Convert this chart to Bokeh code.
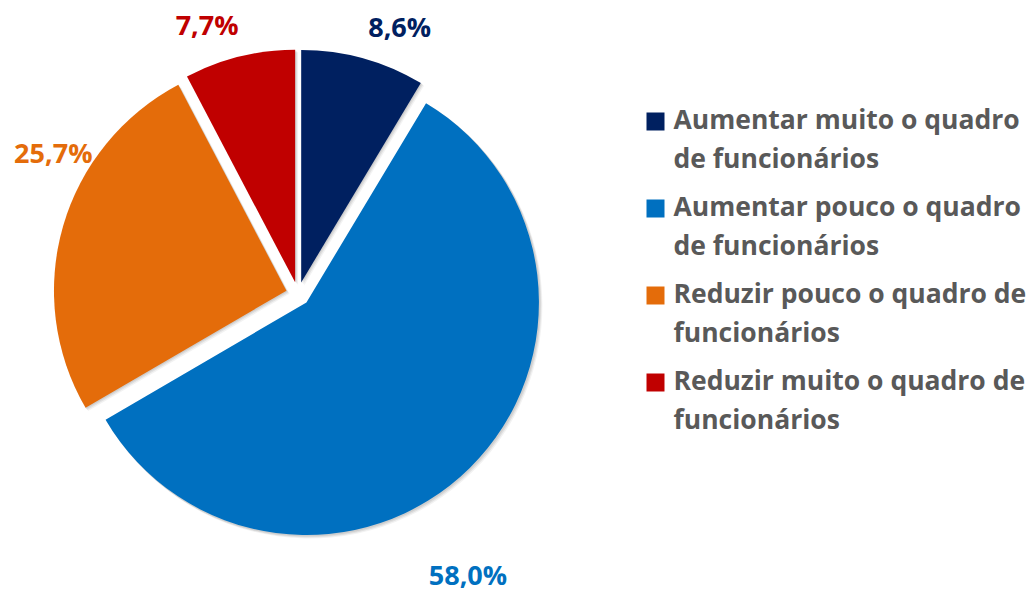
import math
from bokeh.plotting import figure
from bokeh.models import Range1d, ColumnDataSource
from bokeh.core.properties import value
from bokeh.embed import file_html
from bokeh.resources import INLINE

# ---- data ----
categories = [
    "Aumentar muito o quadro de funcionários",
    "Aumentar pouco o quadro de funcionários",
    "Reduzir pouco o quadro de funcionários",
    "Reduzir muito o quadro de funcionários",
]
legend_lines = [
    ["Aumentar muito o quadro", "de funcionários"],
    ["Aumentar pouco o quadro", "de funcionários"],
    ["Reduzir pouco o quadro de", "funcionários"],
    ["Reduzir muito o quadro de", "funcionários"],
]
values = [8.6, 58.0, 25.7, 7.7]
value_labels = ["8,6%", "58,0%", "25,7%", "7,7%"]
colors = ["#002060", "#0070C0", "#E46C0A", "#C00000"]

# ---- layout (pixel space of a 1034x593 page, y measured downward) ----
W, H = 1034, 593
CX, CY = 297.5, 293.5      # pie centre
R = 232.5                  # pie radius
EXPLODE = 12               # each slice pulled out along its bisector
# label placement: (angle clockwise from top in degrees, distance from centre)
label_polar = [(20.9, 285), (148.9, 329), (299.8, 282), (341.3, 283.5)]
LEG_SQ_X, LEG_TEXT_X = 655, 673
LEG_FIRST_BASE, LEG_LINE_GAP, LEG_ENTRY_GAP = 129, 39, 87
TEXT_GRAY = "#595959"
TEXT_DY = 11               # renderer baseline correction

def ydata(py):
    return H - py

p = figure(width=W, height=H, output_backend="svg", toolbar_location=None,
           x_range=Range1d(0, W), y_range=Range1d(0, H), min_border=0)
p.axis.visible = False
p.grid.visible = False
p.outline_line_color = None
p.background_fill_color = "white"
p.border_fill_color = "white"

total = sum(values)
xs, ys, starts, ends = [], [], [], []
cum = 0.0
for v in values:
    c0 = cum / total
    c1 = (cum + v) / total
    cum += v
    mid = (c0 + c1) / 2
    th = math.pi / 2 - 2 * math.pi * mid
    xs.append(CX + EXPLODE * math.cos(th))
    ys.append(ydata(CY) + EXPLODE * math.sin(th))
    starts.append(math.pi / 2 - 2 * math.pi * c0)
    ends.append(math.pi / 2 - 2 * math.pi * c1)

src = ColumnDataSource(dict(x=xs, y=ys, start=starts, end=ends, color=colors))

# soft shadow
for off, a in [(3, 0.05), (2, 0.07), (1, 0.08)]:
    sh = ColumnDataSource(dict(x=[x + off for x in xs], y=[y - off for y in ys],
                               start=starts, end=ends))
    p.wedge(x="x", y="y", radius=R + 0.5, start_angle="start", end_angle="end",
            direction="clock", source=sh, fill_color="black", fill_alpha=a, line_color=None)

p.wedge(x="x", y="y", radius=R, start_angle="start", end_angle="end", direction="clock",
        source=src, fill_color="color", line_color=None)

# value labels
lx, ly = [], []
for ang, dist in label_polar:
    a = math.radians(ang)
    lx.append(CX + dist * math.sin(a))
    ly.append(ydata(CY) + dist * math.cos(a) - 10 + TEXT_DY)
p.text(x=lx, y=ly, text=value_labels, text_color=colors, text_font=value("Open Sans"),
       text_font_style="bold", text_font_size="27px", text_align="center",
       text_baseline="alphabetic")

# legend
for i, lines in enumerate(legend_lines):
    base = LEG_FIRST_BASE + i * LEG_ENTRY_GAP
    p.rect(x=[LEG_SQ_X], y=[ydata(base - 8)], width=18, height=18,
           fill_color=colors[i], line_color=None)
    for j, line in enumerate(lines):
        p.text(x=[LEG_TEXT_X], y=[ydata(base + j * LEG_LINE_GAP) + TEXT_DY], text=[line],
               text_color=TEXT_GRAY, text_font=value("Open Sans"), text_font_style="bold",
               text_font_size="26.5px", text_align="left", text_baseline="alphabetic")

open("out.html", "w").write(file_html(p, INLINE))
